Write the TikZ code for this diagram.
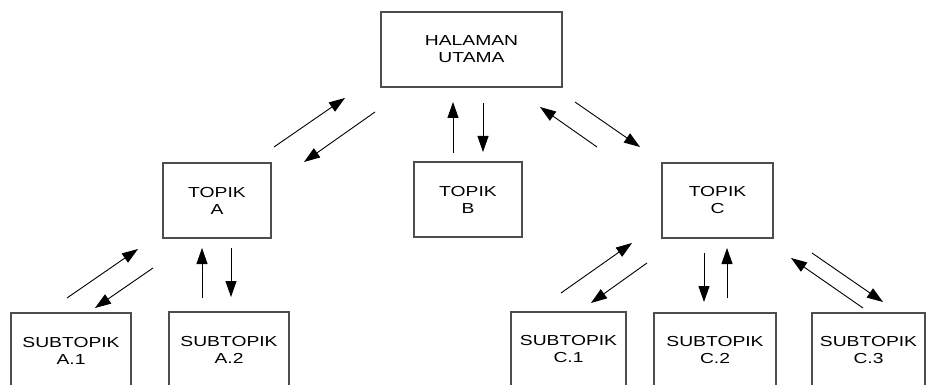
\documentclass[tikz,border=0pt]{standalone}
\usepackage{fontspec}
\setmainfont{Liberation Sans}
\newfontfamily\boxfont[FakeStretch=1.33]{Liberation Sans}
\usepackage{tikz}
\usetikzlibrary{arrows.meta}
\definecolor{edge}{HTML}{4D4D4D}
\tikzset{
  box/.style={draw=edge, line width=1.2pt, rectangle, minimum height=75pt,
    align=center, font=\boxfont\fontsize{14.5}{17}\selectfont, inner sep=0pt},
  arr/.style={draw=black, line width=0.9pt, -{Triangle[length=16pt,width=11pt]}}
}

\begin{document}
\begin{tikzpicture}[x=1pt,y=-1pt]
  \clip (0,0) rectangle (926,385);
  \fill[white] (0,0) rectangle (926,385);
  % boxes
  \node[box, minimum width=181pt] (utama) at (471.5,49.5) {HALAMAN\\UTAMA};
  \node[box, minimum width=108pt] (topA) at (217,200.5) {TOPIK\\A};
  \node[box, minimum width=108pt] (topB) at (468,199.5) {TOPIK\\B};
  \node[box, minimum width=111pt] (topC) at (717.5,200.5) {TOPIK\\C};
  \node[box, minimum width=120pt] (subA1) at (71,350.5) {SUBTOPIK\\A.1};
  \node[box, minimum width=120pt] (subA2) at (229,349.5) {SUBTOPIK\\A.2};
  \node[box, minimum width=115pt] (subC1) at (568.5,349.5) {SUBTOPIK\\C.1};
  \node[box, minimum width=122pt] (subC2) at (715,350.5) {SUBTOPIK\\C.2};
  \node[box, minimum width=113pt] (subC3) at (868.5,350.5) {SUBTOPIK\\C.3};
  % arrow ends
  \foreach \n/\x/\y in {ua/274/147, ub/345/98, uc/375/112, ud/304/162,
      ue/453/153, uf/453/102, ug/483/103, uh/483/152,
      ui/597/147, uj/540/107, uk/575/102, ul/640/147,
      aa/67/298, ab/138/249, ac/153/268, ad/95/308,
      ae/202/298, af/202/248, ag/231/248, ah/231/297,
      ca/561/293, cb/632/243, cc/647/263, cd/591/303,
      ce/704/253, cf/704/302, cg/727/298, ch/727/248,
      ci/863/308, cj/791/258, ck/812/253, cl/883/302}
    \coordinate (\n) at (\x,\y);
  % links to the main page
  \draw[arr] (ua) -- (ub);
  \draw[arr] (uc) -- (ud);
  \draw[arr] (ue) -- (uf);
  \draw[arr] (ug) -- (uh);
  \draw[arr] (ui) -- (uj);
  \draw[arr] (uk) -- (ul);
  % links under topic A
  \draw[arr] (aa) -- (ab);
  \draw[arr] (ac) -- (ad);
  \draw[arr] (ae) -- (af);
  \draw[arr] (ag) -- (ah);
  % links under topic C
  \draw[arr] (ca) -- (cb);
  \draw[arr] (cc) -- (cd);
  \draw[arr] (ce) -- (cf);
  \draw[arr] (cg) -- (ch);
  \draw[arr] (ci) -- (cj);
  \draw[arr] (ck) -- (cl);
\end{tikzpicture}
\end{document}
